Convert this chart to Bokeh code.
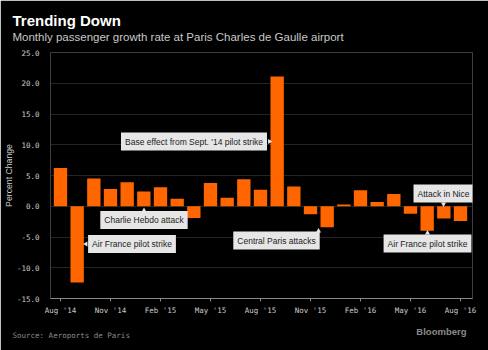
from math import pi
from bokeh.plotting import figure
from bokeh.models import ColumnDataSource, Label, FixedTicker, Range1d, NumeralTickFormatter, Title
from bokeh.embed import file_html
from bokeh.resources import INLINE

# ---- data ----
months = ["Aug '14", "Sep '14", "Oct '14", "Nov '14", "Dec '14", "Jan '15", "Feb '15",
          "Mar '15", "Apr '15", "May '15", "Jun '15", "Jul '15", "Aug '15", "Sep '15",
          "Oct '15", "Nov '15", "Dec '15", "Jan '16", "Feb '16", "Mar '16", "Apr '16",
          "May '16", "Jun '16", "Jul '16", "Aug '16"]
growth = [6.2, -12.4, 4.5, 2.8, 3.9, 2.4, 3.1, 1.2, -1.9, 3.8, 1.4, 4.4, 2.7, 21.1,
          3.2, -1.3, -3.4, 0.3, 2.6, 0.7, 2.0, -1.2, -4.0, -2.0, -2.4]
tick_months = ["Aug '14", "Nov '14", "Feb '15", "May '15", "Aug '15", "Nov '15",
               "Feb '16", "May '16", "Aug '16"]
y_ticks = [-15, -10, -5, 0, 5, 10, 15, 20, 25]
ann_texts = ["Base effect from Sept. '14 pilot strike", "Charlie Hebdo attack",
             "Air France pilot strike", "Central Paris attacks", "Attack in Nice",
             "Air France pilot strike"]

title_text = "Trending Down"
subtitle_text = "Monthly passenger growth rate at Paris Charles de Gaulle airport"
source_text = "Source: Aeroports de Paris"
brand_text = "Bloomberg"
ylabel_text = "Percent Change"

# ---- layout ----
W, H = 488, 350
FL, FR, FT, FB = 50, 472, 52, 298
X0, X1 = -0.6, 24.72
Y0, Y1 = -15, 25
BG = "#000000"
mono = "DejaVu Sans Mono"
sans = "Liberation Sans"


def dx(px):
    return X0 + (px - FL) / (FR - FL) * (X1 - X0)


def dy(py):
    return Y0 + (FB - py) / (FB - FT) * (Y1 - Y0)


p = figure(width=W, height=H, output_backend="svg", toolbar_location=None,
           x_range=Range1d(X0, X1), y_range=Range1d(Y0, Y1), title=None,
           min_border_left=FL, min_border_right=W - FR,
           min_border_top=FT, min_border_bottom=H - FB)
p.background_fill_color = BG
p.border_fill_color = BG
p.outline_line_color = None

src = ColumnDataSource(dict(x=list(range(len(months))), v=growth))
p.vbar(x="x", top="v", bottom=0, width=0.8, source=src,
       fill_color="#ff6600", line_color=None)

p.xaxis.ticker = FixedTicker(ticks=[months.index(m) for m in tick_months])
p.xaxis.major_label_overrides = {months.index(m): m for m in tick_months}
p.xaxis.axis_line_color = "#8a8a8a"
p.xaxis.major_tick_line_color = "#8a8a8a"
p.xaxis.major_tick_in = 0
p.xaxis.major_tick_out = 3
p.xaxis.minor_tick_line_color = None
p.xaxis.major_label_text_font = mono
p.xaxis.major_label_text_font_size = "7.5px"
p.xaxis.major_label_text_color = "#cccccc"
p.xaxis.major_label_standoff = 4

p.yaxis.ticker = FixedTicker(ticks=y_ticks)
p.yaxis.formatter = NumeralTickFormatter(format="0.0")
p.yaxis.axis_line_color = None
p.yaxis.major_tick_line_color = None
p.yaxis.minor_tick_line_color = None
p.yaxis.major_label_text_font = mono
p.yaxis.major_label_text_font_size = "7.5px"
p.yaxis.major_label_text_color = "#cccccc"
p.yaxis.major_label_standoff = 5
p.yaxis.axis_label = ylabel_text
p.yaxis.axis_label_text_font = sans
p.yaxis.axis_label_text_font_style = "normal"
p.yaxis.axis_label_text_font_size = "8.7px"
p.yaxis.axis_label_text_color = "#cccccc"
p.yaxis.axis_label_standoff = 0

p.xgrid.grid_line_color = None
p.ygrid.grid_line_color = "#242424"
p.ygrid.ticker = FixedTicker(ticks=y_ticks)

# header (items in "above" stack outward from the frame)
p.add_layout(Title(text="\u00a0", align="left", standoff=7, text_font=sans,
                   text_font_size="1px", text_color=BG), "above")
p.add_layout(Title(text=subtitle_text, align="left", offset=12 - FL, standoff=0,
                   text_font=sans, text_font_style="normal", text_font_size="11.5px",
                   text_color="#c8c8c8"), "above")
p.add_layout(Title(text=title_text, align="left", offset=12 - FL, standoff=0,
                   text_font=sans, text_font_style="bold", text_font_size="15px",
                   text_color="#ffffff"), "above")

# footer (items in "below" stack downward from the axis)
p.add_layout(Label(x=416, y=-3, x_units="screen", y_units="screen", text=brand_text,
                   text_font=sans, text_font_style="bold", text_font_size="9.5px",
                   text_color="#8a8a8a", text_align="right", text_baseline="middle"),
             "below")
p.add_layout(Title(text=source_text, align="left", offset=12 - FL, standoff=0,
                   text_font=mono, text_font_style="normal", text_font_size="7.5px",
                   text_color="#8a8a8a"), "below")

# annotation boxes
box_pos = [(193.5, 141), (143.5, 219.5), (131.5, 243.5), (276, 240), (443, 193), (427, 243)]
for t, (bx, by) in zip(ann_texts, box_pos):
    p.add_layout(Label(x=dx(bx), y=dy(by), text=t, text_font=sans, text_font_size="8.5px",
                       text_color="#222222", text_align="center", text_baseline="middle",
                       background_fill_color="#e6e6e6", padding=4))

ptr_px = [(269, 141), (143.5, 210), (85.5, 243.5), (318, 230.5), (443, 203.5), (427, 232.5)]
ptr_ang = [-pi / 2, 0, pi / 2, 0, pi, 0]
p.scatter(x=[dx(a) for a, _ in ptr_px], y=[dy(b) for _, b in ptr_px], marker="triangle",
          size=5, angle=ptr_ang, fill_color="#e6e6e6", line_color=None)

open("out.html", "w").write(file_html(p, INLINE))
